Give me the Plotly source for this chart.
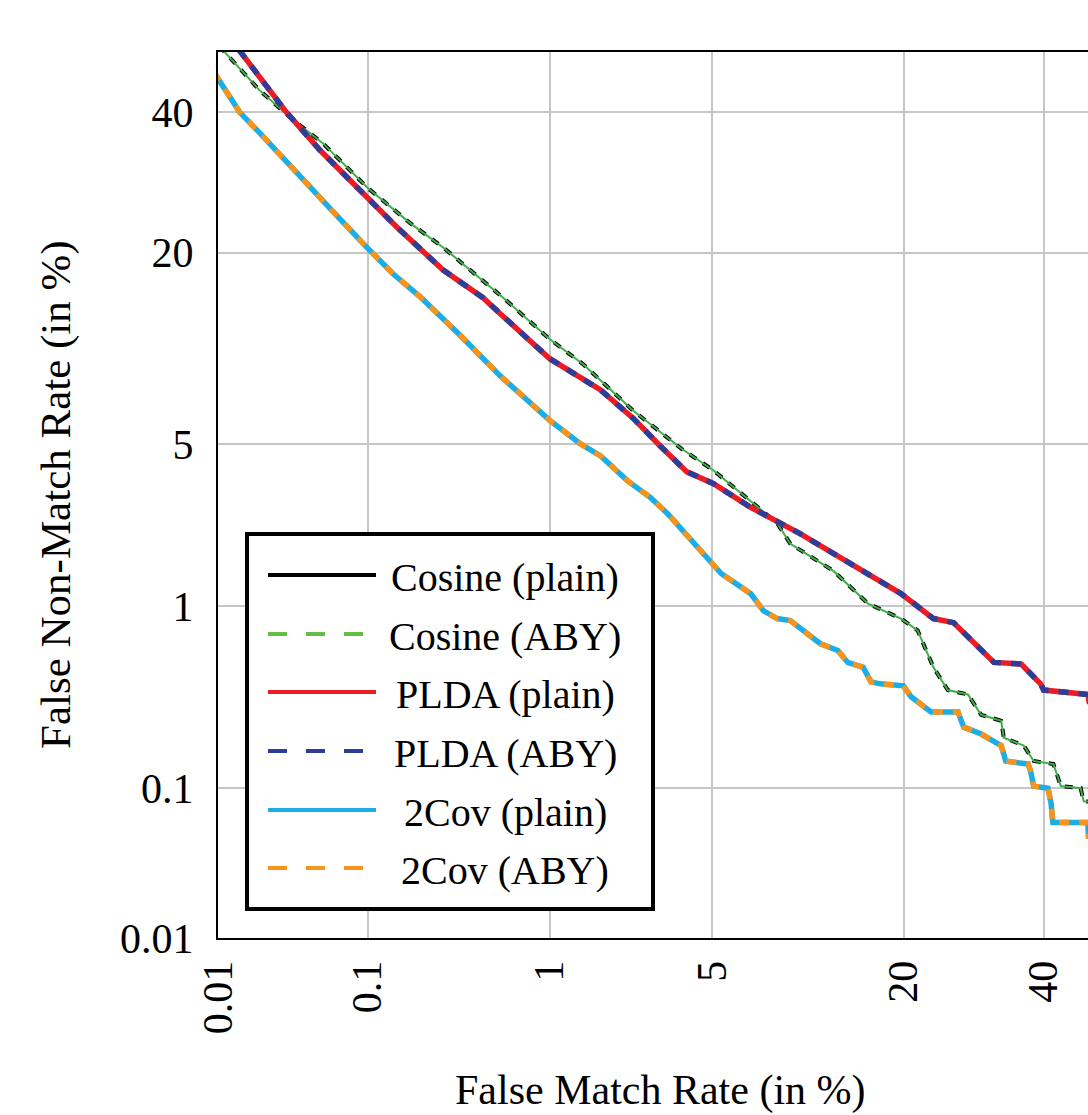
import math
import plotly.graph_objects as go

# ---------------- data (values in %) ----------------
tick_vals = [0.01, 0.1, 1, 5, 20, 40]
tick_text = ["0.01", "0.1", "1", "5", "20", "40"]

cos_fmr = [0.0102, 0.0197, 0.0316, 0.052, 0.1, 0.18, 0.277, 0.585, 1.0, 1.44,
           2.41, 3.8, 5.06, 6.0, 7.1, 8.5, 9.4, 12.8, 16.1, 19.7,
           21.7, 23.7, 25.6, 28.4, 30.3, 33.3, 33.7, 36.8, 38.4, 41.6,
           42.8, 46.1, 46.6, 49]
cos_fnmr = [51, 43.6, 39.2, 35.1, 28.4, 23.6, 20.6, 15.1, 11.4, 9.5,
            6.6, 4.8, 3.95, 3.4, 2.9, 2.4, 1.95, 1.47, 1.03, 0.87,
            0.76, 0.49, 0.37, 0.35, 0.27, 0.25, 0.20, 0.18, 0.146, 0.14,
            0.103, 0.1, 0.083, 0.082]

plda_fmr = [0.0116, 0.0197, 0.030, 0.050, 0.094, 0.150, 0.277, 0.459, 0.563, 1.0,
            1.73, 2.41, 3.13, 4.0, 5.06, 6.35, 6.9, 10.1, 14.4, 19.7,
            23.7, 26.4, 32.2, 36.4, 39.5, 40, 47.3, 47.5, 49]
plda_fnmr = [53, 45.8, 40, 34, 27.7, 23.1, 18.0, 15.1, 13.6, 9.9,
             7.8, 6.2, 4.9, 3.9, 3.5, 3.0, 2.8, 2.16, 1.59, 1.15,
             0.87, 0.83, 0.52, 0.51, 0.40, 0.37, 0.35, 0.32, 0.32]

cov_fmr = [0.00935, 0.01, 0.0143, 0.0197, 0.030, 0.043, 0.064, 0.1, 0.142, 0.205,
           0.345, 0.563, 1.0, 1.40, 1.73, 2.27, 2.85, 3.35, 3.8, 4.8,
           5.4, 6.9, 7.65, 8.5, 9.4, 10.1, 11.1, 11.7, 13.2, 14.1,
           15.6, 16.4, 17.4, 20, 20.9, 23.4, 27.0, 27.8, 30.3, 32.2,
           33.3, 34, 37.5, 37.9, 38.4, 40.7, 41.2, 41.5, 47.3, 47.4, 49]
cov_fnmr = [46.6, 45.6, 40, 36.7, 32.2, 28.6, 24.6, 20.5, 17.6, 15.2,
            11.7, 8.7, 6.1, 5.0, 4.5, 3.6, 3.07, 2.63, 2.27, 1.69,
            1.43, 1.15, 0.95, 0.87, 0.85, 0.78, 0.70, 0.65, 0.60, 0.52,
            0.49, 0.41, 0.40, 0.39, 0.34, 0.28, 0.28, 0.23, 0.21, 0.19,
            0.18, 0.146, 0.14, 0.127, 0.103, 0.1, 0.081, 0.061, 0.061, 0.05, 0.05]

legend_names = ["Cosine (plain)", "Cosine (ABY)", "PLDA (plain)",
                "PLDA (ABY)", "2Cov (plain)", "2Cov (ABY)"]


# ---------------- probit (normal deviate) scale ----------------
def probit(p):
    a = [-3.969683028665376e+01, 2.209460984245205e+02, -2.759285104469687e+02,
         1.383577518672690e+02, -3.066479806614716e+01, 2.506628277459239e+00]
    b = [-5.447609879822406e+01, 1.615858368580409e+02, -1.556989798598866e+02,
         6.680131188771972e+01, -1.328068155288572e+01]
    c = [-7.784894002430293e-03, -3.223964580411365e-01, -2.400758277161838e+00,
         -2.549732539343734e+00, 4.374664141464968e+00, 2.938163982698783e+00]
    d = [7.784695709041462e-03, 3.224671290700398e-01, 2.445134137142996e+00,
         3.754408661907416e+00]
    plow = 0.02425
    if p < plow:
        q = math.sqrt(-2 * math.log(p))
        return (((((c[0]*q+c[1])*q+c[2])*q+c[3])*q+c[4])*q+c[5]) / \
               ((((d[0]*q+d[1])*q+d[2])*q+d[3])*q+1)
    if p <= 1 - plow:
        q = p - 0.5
        r = q * q
        return (((((a[0]*r+a[1])*r+a[2])*r+a[3])*r+a[4])*r+a[5])*q / \
               (((((b[0]*r+b[1])*r+b[2])*r+b[3])*r+b[4])*r+1)
    q = math.sqrt(-2 * math.log(1 - p))
    return -(((((c[0]*q+c[1])*q+c[2])*q+c[3])*q+c[4])*q+c[5]) / \
           ((((d[0]*q+d[1])*q+d[2])*q+d[3])*q+1)


def pz(vals):
    return [probit(v / 100.0) for v in vals]


# ---------------- figure ----------------
W, H = 1088, 1115
ML, MR, MT, MB = 218, 0, 52, 177
plot_w = W - ML - MR
plot_h = H - MT - MB

y_lo, y_hi = probit(0.0001), probit(0.5)
scale = plot_h / (y_hi - y_lo)
x_lo = probit(0.0001)
x_hi = x_lo + plot_w / scale

BLACK = "#000000"
GREEN = "#3fae49"
GREEN_LEG = "#62bf46"
RED = "#ec1c24"
BLUE = "#2e3d98"
CYAN = "#1cade4"
ORANGE = "#f7941d"

fig = go.Figure()

# Cosine
fig.add_trace(go.Scatter(x=pz(cos_fmr), y=pz(cos_fnmr), mode="lines", name=legend_names[0],
                         line=dict(color=BLACK, width=4, dash="8px,8px"), showlegend=False))
fig.add_trace(go.Scatter(x=pz(cos_fmr), y=pz(cos_fnmr), mode="lines", name=legend_names[1],
                         line=dict(color=GREEN, width=2), showlegend=False))
# PLDA
fig.add_trace(go.Scatter(x=pz(plda_fmr), y=pz(plda_fnmr), mode="lines", name=legend_names[2],
                         line=dict(color=RED, width=5.5), showlegend=False))
fig.add_trace(go.Scatter(x=pz(plda_fmr), y=pz(plda_fnmr), mode="lines", name=legend_names[3],
                         line=dict(color=BLUE, width=5.5, dash="10px,10px"), showlegend=False))
# 2Cov
fig.add_trace(go.Scatter(x=pz(cov_fmr), y=pz(cov_fnmr), mode="lines", name=legend_names[4],
                         line=dict(color=CYAN, width=5.5), showlegend=False))
fig.add_trace(go.Scatter(x=pz(cov_fmr), y=pz(cov_fnmr), mode="lines", name=legend_names[5],
                         line=dict(color=ORANGE, width=5.5, dash="10px,10px"), showlegend=False))

FONT = "Liberation Serif, Times New Roman, serif"


def px_x(px):
    return (px - ML) / plot_w


def px_y(py):
    return (H - MB - py) / plot_h


shapes = []
annotations = []

# manual legend box
shapes.append(dict(type="rect", xref="paper", yref="paper",
                   x0=px_x(247), x1=px_x(653), y0=px_y(909), y1=px_y(534),
                   line=dict(color="black", width=4), fillcolor="white", layer="above"))
leg_styles = [(BLACK, None), (GREEN_LEG, "19px,19px"), (RED, None),
              (BLUE, "19px,19px"), (CYAN, None), (ORANGE, "19px,19px")]
leg_y = [575, 634, 692, 751, 810, 868]
for name, (col, dash), yy in zip(legend_names, leg_styles, leg_y):
    ln = dict(color=col, width=4)
    if dash:
        ln["dash"] = dash
    shapes.append(dict(type="line", xref="paper", yref="paper",
                       x0=px_x(268), x1=px_x(376), y0=px_y(yy), y1=px_y(yy),
                       line=ln, layer="above"))
    annotations.append(dict(text=name, xref="paper", yref="paper",
                            x=px_x(505), y=px_y(yy + 2), xanchor="center", yanchor="middle",
                            showarrow=False, font=dict(family=FONT, size=40, color="black")))

# axis titles
annotations.append(dict(text="False Match Rate (in %)", xref="paper", yref="paper",
                        x=px_x(660), y=px_y(1090), xanchor="center", yanchor="middle",
                        showarrow=False, font=dict(family=FONT, size=42, color="black")))
annotations.append(dict(text="False Non-Match Rate (in %)", xref="paper", yref="paper",
                        x=px_x(56), y=px_y(495), xanchor="center", yanchor="middle",
                        textangle=-90, showarrow=False,
                        font=dict(family=FONT, size=43, color="black")))

axis_common = dict(
    tickvals=pz(tick_vals), ticktext=tick_text,
    showgrid=True, gridcolor="#c6c6c6", gridwidth=2,
    showline=True, linecolor="black", linewidth=2,
    ticks="", zeroline=False,
    tickfont=dict(family=FONT, size=42, color="black"),
)

fig.update_layout(
    width=W, height=H,
    margin=dict(l=ML, r=MR, t=MT, b=MB, pad=0),
    paper_bgcolor="white", plot_bgcolor="white",
    showlegend=False,
    xaxis=dict(range=[x_lo, x_hi], tickangle=-90, mirror=True,
               ticklabelstandoff=4, **axis_common),
    yaxis=dict(range=[y_lo, y_hi], mirror=False,
               ticklabelstandoff=14, **axis_common),
    shapes=shapes,
    annotations=annotations,
)

fig.write_html("out.html", config={"displayModeBar": False},
               post_script="document.body.style.margin='0';document.body.style.overflow='hidden';")
